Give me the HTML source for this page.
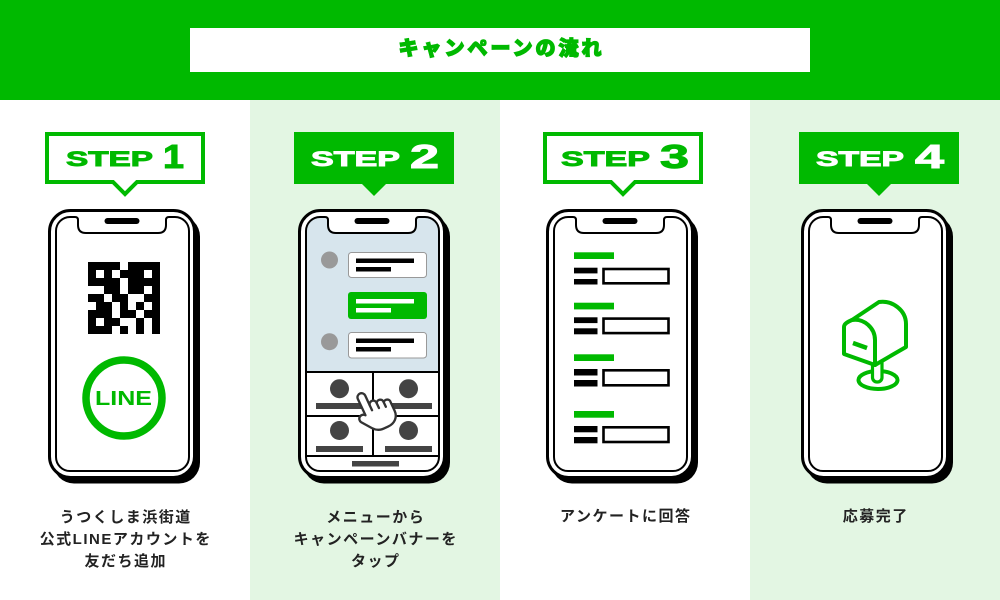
<!DOCTYPE html>
<html><head><meta charset="utf-8">
<style>
html,body{margin:0;padding:0;}
body{width:1000px;height:600px;overflow:hidden;position:relative;background:#fff;font-family:"Liberation Sans","Noto Sans CJK JP",sans-serif;}
svg{position:absolute;left:0;top:0;}
.title{position:absolute;left:190px;top:28px;width:620px;height:44px;line-height:42px;text-align:center;color:#00b900;font-family:"Liberation Sans","Noto Sans CJK JP",sans-serif;font-weight:900;font-size:20px;letter-spacing:3px;padding-left:3px;box-sizing:border-box;-webkit-text-stroke:1.3px #00b900;}
.cap{position:absolute;width:250px;text-align:center;font-family:"Liberation Sans","Noto Sans CJK JP",sans-serif;font-weight:700;font-size:15px;line-height:22px;letter-spacing:1.5px;color:#222;box-sizing:border-box;padding-left:1.5px;}
</style></head>
<body>
<svg width="1000" height="600" viewBox="0 0 1000 600" xmlns="http://www.w3.org/2000/svg">
  <defs>
    <clipPath id="scr2">
      <path transform="translate(298,209)" d="M 22,8 H 27 Q 30,8 30,11 V 16 Q 30,24 38,24 H 110 Q 118,24 118,16 V 11 Q 118,8 121,8 H 127 A 14,14 0 0 1 141,22 V 248 A 14,14 0 0 1 127,262 H 22 A 14,14 0 0 1 8,248 V 22 A 14,14 0 0 1 22,8 Z"/>
    </clipPath>
  </defs>
  <!-- backgrounds -->
  <rect x="250" y="100" width="250" height="500" fill="#e3f6e3"/>
  <rect x="750" y="100" width="250" height="500" fill="#e3f6e3"/>
  <rect x="0" y="0" width="1000" height="100" fill="#00b900"/>
  <rect x="190" y="28" width="620" height="44" fill="#fff"/>

  <!-- badges -->
  <path d="M47,134 H203 V182 H137 L125,194 L113,182 H47 Z" fill="#fff" stroke="#00b900" stroke-width="4"/>
  <text x="66" y="166" font-family="Liberation Sans" font-weight="700" font-size="21" fill="#00b900" stroke="#00b900" stroke-width="0.9" textLength="87" lengthAdjust="spacingAndGlyphs">STEP</text>
  <text x="163" y="168" font-family="Liberation Sans" font-weight="700" font-size="33" fill="#00b900" stroke="#00b900" stroke-width="1" textLength="21" lengthAdjust="spacingAndGlyphs">1</text>

  <path d="M294,132 H454 V184 H386 L374,196 L362,184 H294 Z" fill="#00b900"/>
  <text x="311" y="166" font-family="Liberation Sans" font-weight="700" font-size="21" fill="#fff" stroke="#fff" stroke-width="0.9" textLength="89" lengthAdjust="spacingAndGlyphs">STEP</text>
  <text x="410" y="168" font-family="Liberation Sans" font-weight="700" font-size="33" fill="#fff" stroke="#fff" stroke-width="1" textLength="29" lengthAdjust="spacingAndGlyphs">2</text>

  <path d="M545,134 H701 V182 H635 L623,194 L611,182 H545 Z" fill="#fff" stroke="#00b900" stroke-width="4"/>
  <text x="561" y="166" font-family="Liberation Sans" font-weight="700" font-size="21" fill="#00b900" stroke="#00b900" stroke-width="0.9" textLength="89" lengthAdjust="spacingAndGlyphs">STEP</text>
  <text x="660" y="168" font-family="Liberation Sans" font-weight="700" font-size="33" fill="#00b900" stroke="#00b900" stroke-width="1" textLength="29" lengthAdjust="spacingAndGlyphs">3</text>

  <path d="M799,132 H959 V184 H891 L879,196 L867,184 H799 Z" fill="#00b900"/>
  <text x="816" y="166" font-family="Liberation Sans" font-weight="700" font-size="21" fill="#fff" stroke="#fff" stroke-width="0.9" textLength="88" lengthAdjust="spacingAndGlyphs">STEP</text>
  <text x="915" y="168" font-family="Liberation Sans" font-weight="700" font-size="33" fill="#fff" stroke="#fff" stroke-width="1" textLength="29" lengthAdjust="spacingAndGlyphs">4</text>

  <!-- PHONE 1 -->
  <g transform="translate(48,209)">
    <rect x="5" y="6.5" width="147" height="268" rx="21" fill="#000"/>
    <rect x="1.5" y="1.5" width="145" height="267" rx="21" fill="#fff" stroke="#000" stroke-width="3"/>
    <path d="M 22,8 H 27 Q 30,8 30,11 V 16 Q 30,24 38,24 H 110 Q 118,24 118,16 V 11 Q 118,8 121,8 H 127 A 14,14 0 0 1 141,22 V 248 A 14,14 0 0 1 127,262 H 22 A 14,14 0 0 1 8,248 V 22 A 14,14 0 0 1 22,8 Z" fill="#fff" stroke="#000" stroke-width="2"/>
    <rect x="56.5" y="9" width="35" height="6" rx="3" fill="#000"/>
  </g>
  <!-- QR -->
  <g fill="#000">
    <path fill-rule="evenodd" d="M88,262 h24 v24 h-24 Z M96,270 v8 h8 v-8 Z"/>
    <path fill-rule="evenodd" d="M136,262 h24 v24 h-24 Z M144,270 v8 h8 v-8 Z"/>
    <path fill-rule="evenodd" d="M88,310 h24 v24 h-24 Z M96,318 v8 h8 v-8 Z"/>
    <rect x="112" y="262" width="8" height="8"/><rect x="128" y="262" width="8" height="8"/>
    <rect x="120" y="270" width="8" height="8"/><rect x="128" y="270" width="8" height="8"/>
    <rect x="112" y="278" width="8" height="8"/><rect x="128" y="278" width="8" height="8"/>
    <rect x="104" y="286" width="16" height="8"/><rect x="128" y="286" width="16" height="8"/><rect x="152" y="286" width="8" height="8"/>
    <rect x="88" y="294" width="16" height="8"/><rect x="112" y="294" width="16" height="8"/><rect x="144" y="294" width="16" height="8"/>
    <rect x="96" y="302" width="16" height="8"/><rect x="120" y="302" width="8" height="8"/><rect x="136" y="302" width="8" height="8"/><rect x="152" y="302" width="8" height="8"/>
    <rect x="120" y="310" width="16" height="8"/><rect x="144" y="310" width="16" height="8"/>
    <rect x="112" y="318" width="8" height="8"/><rect x="136" y="318" width="8" height="8"/><rect x="152" y="318" width="8" height="8"/>
    <rect x="120" y="326" width="8" height="8"/><rect x="136" y="326" width="8" height="8"/><rect x="152" y="326" width="8" height="8"/>
  </g>
  <!-- LINE circle -->
  <circle cx="124" cy="398" r="38" fill="#fff" stroke="#00b900" stroke-width="7.5"/>
  <text x="95" y="405" font-family="Liberation Sans" font-weight="700" font-size="20" fill="#00b900" textLength="57" lengthAdjust="spacingAndGlyphs">LINE</text>

  <!-- PHONE 2 -->
  <g transform="translate(298,209)">
    <rect x="5" y="6.5" width="147" height="268" rx="21" fill="#000"/>
    <rect x="1.5" y="1.5" width="145" height="267" rx="21" fill="#fff" stroke="#000" stroke-width="3"/>
  </g>
  <g clip-path="url(#scr2)">
    <rect x="298" y="209" width="150" height="163" fill="#d7e5ed"/>
    <rect x="298" y="372" width="150" height="110" fill="#fff"/>
  </g>
  <g transform="translate(298,209)">
    <path d="M 22,8 H 27 Q 30,8 30,11 V 16 Q 30,24 38,24 H 110 Q 118,24 118,16 V 11 Q 118,8 121,8 H 127 A 14,14 0 0 1 141,22 V 248 A 14,14 0 0 1 127,262 H 22 A 14,14 0 0 1 8,248 V 22 A 14,14 0 0 1 22,8 Z" fill="none" stroke="#000" stroke-width="2"/>
    <rect x="56.5" y="9" width="35" height="6" rx="3" fill="#000"/>
    <circle cx="31.5" cy="51" r="8.5" fill="#999"/>
    <rect x="50.5" y="43.5" width="78" height="25" rx="3" fill="#fff" stroke="#999" stroke-width="1"/>
    <rect x="58" y="49.5" width="58" height="4.5" fill="#000"/>
    <rect x="58" y="58" width="35" height="4.5" fill="#000"/>
    <rect x="50" y="83" width="79" height="27" rx="3" fill="#00b900"/>
    <rect x="58" y="90" width="58" height="4.5" fill="#fff"/>
    <rect x="58" y="99" width="35" height="4.5" fill="#fff"/>
    <circle cx="31.5" cy="132.7" r="8.5" fill="#999"/>
    <rect x="50.5" y="123.5" width="78" height="25.5" rx="3" fill="#fff" stroke="#999" stroke-width="1"/>
    <rect x="58" y="129.5" width="58" height="4.5" fill="#000"/>
    <rect x="58" y="138" width="35" height="4.5" fill="#000"/>
    <line x1="8" y1="163" x2="141" y2="163" stroke="#000" stroke-width="2"/>
    <line x1="8" y1="207" x2="141" y2="207" stroke="#000" stroke-width="2"/>
    <line x1="8" y1="247" x2="141" y2="247" stroke="#000" stroke-width="2"/>
    <line x1="75" y1="163" x2="75" y2="247" stroke="#000" stroke-width="2"/>
    <circle cx="41.5" cy="179.7" r="9.5" fill="#444"/>
    <circle cx="110.5" cy="179.7" r="9.5" fill="#444"/>
    <circle cx="41.5" cy="221.5" r="9.5" fill="#444"/>
    <circle cx="110.5" cy="221.5" r="9.5" fill="#444"/>
    <rect x="18" y="194" width="47" height="6" fill="#444"/>
    <rect x="87" y="194" width="47" height="6" fill="#444"/>
    <rect x="18" y="237" width="47" height="6" fill="#444"/>
    <rect x="87" y="237" width="47" height="6" fill="#444"/>
    <rect x="54" y="252" width="47" height="5.5" fill="#444"/>
  </g>
  <!-- hand -->
  <g transform="translate(360,394) rotate(-25) scale(0.9)" fill="#fff" stroke="#333" stroke-width="2.6" stroke-linejoin="round" stroke-linecap="round">
    <path d="M -4.5,20 V 4 A 4.5,4.5 0 0 1 4.5,4 V 16 A 4,4 0 0 1 12.5,17 A 4,4 0 0 1 20,19.5 A 4,4 0 0 1 27,23 V 33 C 27,41 21,46 13,46 H 8 C 3,46 -1,44 -4,40 L -12,29 A 4.3,4.3 0 0 1 -4.5,24 Z"/>
    <path d="M 4.5,16 V 22 M 12.5,17 V 23 M 20,19.5 V 25" fill="none"/>
  </g>

  <!-- PHONE 3 -->
  <g transform="translate(546,209)">
    <rect x="5" y="6.5" width="147" height="268" rx="21" fill="#000"/>
    <rect x="1.5" y="1.5" width="145" height="267" rx="21" fill="#fff" stroke="#000" stroke-width="3"/>
    <path d="M 22,8 H 27 Q 30,8 30,11 V 16 Q 30,24 38,24 H 110 Q 118,24 118,16 V 11 Q 118,8 121,8 H 127 A 14,14 0 0 1 141,22 V 248 A 14,14 0 0 1 127,262 H 22 A 14,14 0 0 1 8,248 V 22 A 14,14 0 0 1 22,8 Z" fill="#fff" stroke="#000" stroke-width="2"/>
    <rect x="56.5" y="9" width="35" height="6" rx="3" fill="#000"/>
  </g>
  <g>
    <rect x="574" y="252.3" width="40" height="6.7" fill="#00b900"/>
    <rect x="574" y="267.7" width="23.5" height="5.7" fill="#000"/>
    <rect x="574" y="279" width="23.5" height="5.5" fill="#000"/>
    <rect x="603.5" y="269" width="65" height="14.3" fill="#fff" stroke="#000" stroke-width="2.6"/>

    <rect x="574" y="302.7" width="40" height="6.7" fill="#00b900"/>
    <rect x="574" y="317.3" width="23.5" height="5.8" fill="#000"/>
    <rect x="574" y="328.3" width="23.5" height="6" fill="#000"/>
    <rect x="603.5" y="318.6" width="65" height="14.5" fill="#fff" stroke="#000" stroke-width="2.6"/>

    <rect x="574" y="354.3" width="40" height="6.7" fill="#00b900"/>
    <rect x="574" y="369" width="23.5" height="6.5" fill="#000"/>
    <rect x="574" y="380" width="23.5" height="6.5" fill="#000"/>
    <rect x="603.5" y="370.3" width="65" height="15" fill="#fff" stroke="#000" stroke-width="2.6"/>

    <rect x="574" y="411" width="40" height="6.7" fill="#00b900"/>
    <rect x="574" y="426" width="23.5" height="6.3" fill="#000"/>
    <rect x="574" y="437" width="23.5" height="6.3" fill="#000"/>
    <rect x="603.5" y="427.3" width="65" height="14.7" fill="#fff" stroke="#000" stroke-width="2.6"/>
  </g>

  <!-- PHONE 4 -->
  <g transform="translate(801,209)">
    <rect x="5" y="6.5" width="147" height="268" rx="21" fill="#000"/>
    <rect x="1.5" y="1.5" width="145" height="267" rx="21" fill="#fff" stroke="#000" stroke-width="3"/>
    <path d="M 22,8 H 27 Q 30,8 30,11 V 16 Q 30,24 38,24 H 110 Q 118,24 118,16 V 11 Q 118,8 121,8 H 127 A 14,14 0 0 1 141,22 V 248 A 14,14 0 0 1 127,262 H 22 A 14,14 0 0 1 8,248 V 22 A 14,14 0 0 1 22,8 Z" fill="#fff" stroke="#000" stroke-width="2"/>
    <rect x="56.5" y="9" width="35" height="6" rx="3" fill="#000"/>
  </g>
  <!-- mailbox -->
  <g stroke="#00b900" stroke-width="4" fill="#fff" stroke-linejoin="round" stroke-linecap="round">
    <ellipse cx="878" cy="380" rx="19.5" ry="9"/>
    <rect x="872.5" y="358" width="9.5" height="24" rx="4.5" stroke-width="3.2"/>
    <path d="M 844,327 L 844,354 L 875,365 L 906,347 L 906,324 C 906,310 892,300 879,302 L 852,320 C 847,322 844,324 844,327 Z"/>
    <path d="M 852,320 C 864,318 875,328 875,340 L 875,365" fill="none"/>
    <line x1="853" y1="343" x2="867" y2="348" stroke-width="4.5" stroke-linecap="butt"/>
  </g>
</svg>

<div class="title">キャンペーンの流れ</div>

<div class="cap" style="left:0;top:507px;">うつくしま浜街道<br>公式LINEアカウントを<br>友だち追加</div>
<div class="cap" style="left:250px;top:507px;">メニューから<br>キャンペーンバナーを<br>タップ</div>
<div class="cap" style="left:500px;top:506px;">アンケートに回答</div>
<div class="cap" style="left:750px;top:506px;">応募完了</div>
</body></html>
